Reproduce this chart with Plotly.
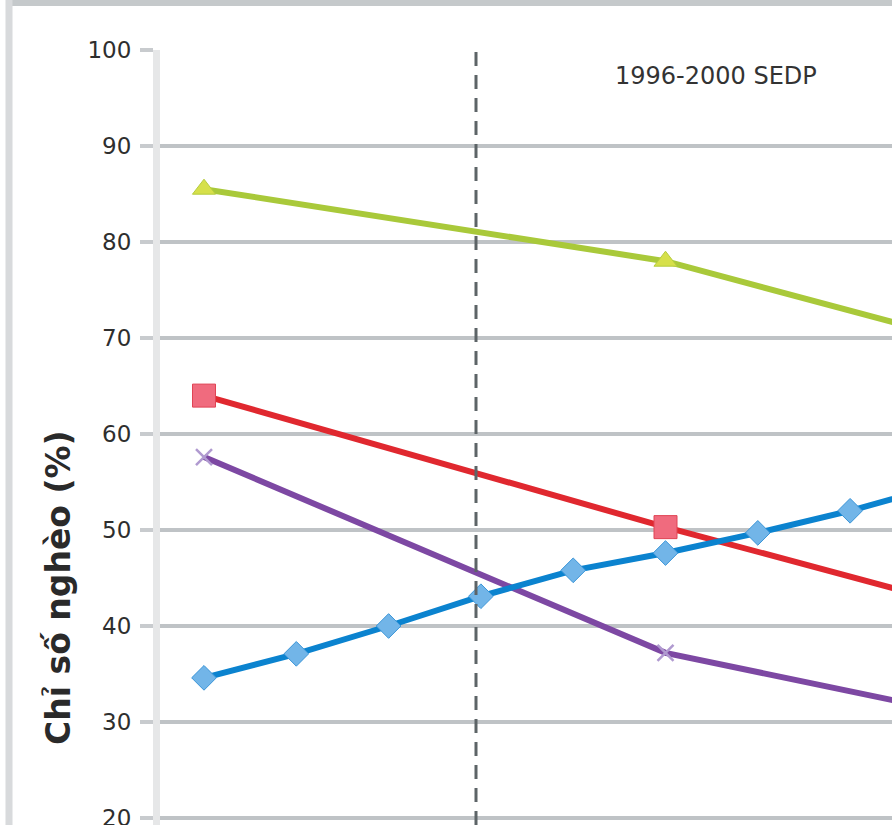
import plotly.graph_objects as go

# ---- data ----
years_annual = [1993, 1994, 1995, 1996, 1997, 1998, 1999, 2000, 2001]
blue_values = [34.6, 37.1, 40.0, 43.1, 45.8, 47.6, 49.7, 52.0, 54.7]

years_survey = [1993, 1998, 2002]
green_values = [85.5, 78.0, 67.7]
red_values = [64.0, 50.3, 40.0]
purple_values = [57.6, 37.2, 29.2]

y_ticks = [20, 30, 40, 50, 60, 70, 80, 90, 100]
sedp_label = "1996-2000 SEDP"
y_title = "Chỉ số nghèo (%)"

W, H = 892, 825
L, R, T, B = 160, 0, 50, 0

fig = go.Figure()

fig.add_trace(go.Scatter(
    x=years_survey, y=green_values, mode="lines+markers", name="Chuỗi 1",
    line=dict(color="#a9c93a", width=6),
    marker=dict(symbol="triangle-up", size=20, color="#d6e04a",
                line=dict(color="#b5cc3e", width=1)),
))
fig.add_trace(go.Scatter(
    x=years_survey, y=red_values, mode="lines+markers", name="Chuỗi 2",
    line=dict(color="#e0282f", width=6),
    marker=dict(symbol="square", size=23, color="#f06b7e",
                line=dict(color="#e04454", width=1)),
))
fig.add_trace(go.Scatter(
    x=years_survey, y=purple_values, mode="lines+markers", name="Chuỗi 3",
    line=dict(color="#7d48a3", width=6),
    marker=dict(symbol="x-thin", size=16, color="#b09ad0",
                line=dict(color="#b09ad0", width=2.5)),
))
fig.add_trace(go.Scatter(
    x=years_annual, y=blue_values, mode="lines+markers", name="Chuỗi 4",
    line=dict(color="#0b83cf", width=6),
    marker=dict(symbol="diamond", size=19, color="#72b5e8",
                line=dict(color="#3a95d8", width=1)),
))

pw = W - L - R
ph = H - T - B
def px_x(p):
    return (p - L) / pw
def px_y(p):
    return (H - B - p) / ph

# vertical dashed marker line (start of the 1996-2000 plan)
fig.add_shape(type="line", xref="paper", yref="paper", x0=px_x(476), x1=px_x(476),
              y0=0, y1=1, line=dict(color="#5d6467", width=3, dash="14px,9px"))

# outer chart border (top and left)
fig.add_shape(type="line", xref="paper", yref="paper",
              x0=px_x(6), x1=px_x(W + 5), y0=px_y(3), y1=px_y(3),
              line=dict(color="#c5c9cb", width=6), layer="above")
fig.add_shape(type="line", xref="paper", yref="paper",
              x0=px_x(9), x1=px_x(9), y0=px_y(0), y1=px_y(H + 5),
              line=dict(color="#d8dadc", width=7), layer="above")

fig.add_annotation(text=sedp_label, xref="paper", yref="paper",
                   x=px_x(716), y=px_y(76), showarrow=False,
                   xanchor="center", yanchor="middle",
                   font=dict(family="DejaVu Sans", size=24, color="#333333"))
fig.add_annotation(text="<b>" + y_title + "</b>", xref="paper", yref="paper",
                   x=px_x(58), y=px_y(588), showarrow=False, textangle=-90,
                   xanchor="center", yanchor="middle",
                   font=dict(family="DejaVu Sans", size=33, color="#2a2a2a"))

x_lo = 1993 - (204 - L) / 92.3
x_hi = 1993 + (W - R - 204) / 92.3
y_hi = 100
y_lo = 20 - (H - B - 818) / 9.6

fig.update_layout(
    width=W, height=H,
    margin=dict(l=L, r=R, t=T, b=B, autoexpand=False),
    paper_bgcolor="white", plot_bgcolor="white",
    showlegend=False,
    xaxis=dict(range=[x_lo, x_hi], showgrid=False, zeroline=False,
               showticklabels=False, ticks="", showline=False, automargin=False),
    yaxis=dict(range=[y_lo, y_hi], tickvals=y_ticks, automargin=False,
               showgrid=True, gridcolor="#bfc3c6", gridwidth=4,
               zeroline=False, showline=True, linecolor="#e6e7e8", linewidth=7,
               ticks="outside", ticklen=13, tickwidth=4, tickcolor="#c8cbce",
               tickfont=dict(family="DejaVu Sans", size=23, color="#2e2e2e"),
               ticklabelstandoff=4, ticklabeloverflow="allow"),
)

fig.write_html("out.html", config={"displayModeBar": False},
               post_script="document.body.style.margin='0';document.body.style.overflow='hidden';")
